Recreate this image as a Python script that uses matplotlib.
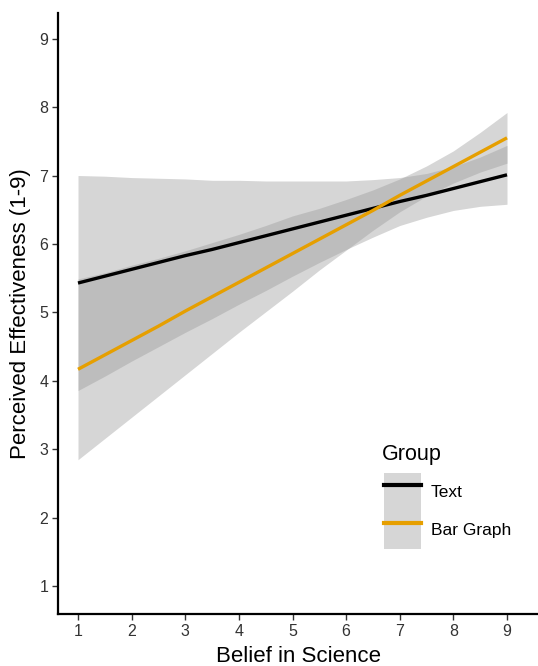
import matplotlib
matplotlib.use("Agg")
import matplotlib.pyplot as plt
from matplotlib.patches import Patch
from matplotlib.lines import Line2D

plt.rcParams["font.family"] = ["Liberation Sans", "DejaVu Sans"]

# belief in science grid (half steps)
belief = [1, 1.5, 2, 2.5, 3, 3.5, 4, 4.5, 5, 5.5, 6, 6.5, 7, 7.5, 8, 8.5, 9]

# Text group: fitted line and 95% band
text_fit = [5.43, 5.53, 5.63, 5.73, 5.83, 5.92, 6.02, 6.12, 6.22,
            6.32, 6.42, 6.52, 6.62, 6.71, 6.81, 6.91, 7.01]
text_lo = [3.86, 4.07, 4.29, 4.50, 4.71, 4.91, 5.12, 5.32, 5.53,
           5.73, 5.92, 6.10, 6.27, 6.39, 6.49, 6.55, 6.58]
text_hi = [7.00, 6.99, 6.97, 6.96, 6.95, 6.93, 6.93, 6.92, 6.92,
           6.92, 6.92, 6.94, 6.97, 7.03, 7.13, 7.27, 7.44]

# Bar Graph group
bar_fit = [4.17, 4.38, 4.59, 4.80, 5.02, 5.23, 5.44, 5.65, 5.86,
           6.07, 6.28, 6.49, 6.71, 6.92, 7.13, 7.34, 7.55]
bar_lo = [2.85, 3.16, 3.47, 3.78, 4.09, 4.40, 4.71, 5.01, 5.31,
          5.62, 5.91, 6.20, 6.47, 6.70, 6.89, 7.05, 7.18]
bar_hi = [5.49, 5.58, 5.69, 5.79, 5.90, 6.02, 6.14, 6.27, 6.41,
          6.52, 6.65, 6.79, 6.95, 7.14, 7.36, 7.63, 7.92]

groups = ["Text", "Bar Graph"]
colors = ["#000000", "#E69F00"]
band_color = "#999999"

fig = plt.figure(figsize=(5.38, 6.66), dpi=100)
ax = fig.add_axes([58 / 538, 52 / 666, 480 / 538, 601 / 666])

ax.fill_between(belief, text_lo, text_hi, color=band_color, alpha=0.4, lw=0)
ax.plot(belief, text_fit, color=colors[0], lw=2.4, solid_capstyle="butt")
ax.fill_between(belief, bar_lo, bar_hi, color=band_color, alpha=0.4, lw=0)
ax.plot(belief, bar_fit, color=colors[1], lw=2.4, solid_capstyle="butt")

ax.set_xlim(0.627, 9.578)
ax.set_ylim(0.597, 9.373)
ax.set_xticks(range(1, 10))
ax.set_yticks(range(1, 10))
ax.tick_params(labelsize=11.5, length=4, width=1, color="#333333", labelcolor="#333333", pad=3)
for side in ["top", "right"]:
    ax.spines[side].set_visible(False)
for side in ["left", "bottom"]:
    ax.spines[side].set_linewidth(1.6)

ax.set_xlabel("Belief in Science", fontsize=16, labelpad=5)
ax.set_ylabel("Perceived Effectiveness (1-9)", fontsize=16, labelpad=6)

# legend: grey key background like ggplot, title placed separately
handles = [(Patch(facecolor="#d6d6d6", edgecolor="none"), Line2D([], [], color=c, lw=3))
           for c in colors]
leg = ax.legend(handles, groups, loc="upper left",
                bbox_to_anchor=(372 / 538, 1 - 461 / 666), bbox_transform=fig.transFigure,
                frameon=False, fontsize=12.5,
                handlelength=2.1, handleheight=3.0, labelspacing=0, handletextpad=0.6,
                borderpad=0.2)
fig.text(382 / 538, 1 - 444 / 666, "Group", fontsize=15.5, ha="left", va="top")

fig.savefig("out.png", dpi=100)
